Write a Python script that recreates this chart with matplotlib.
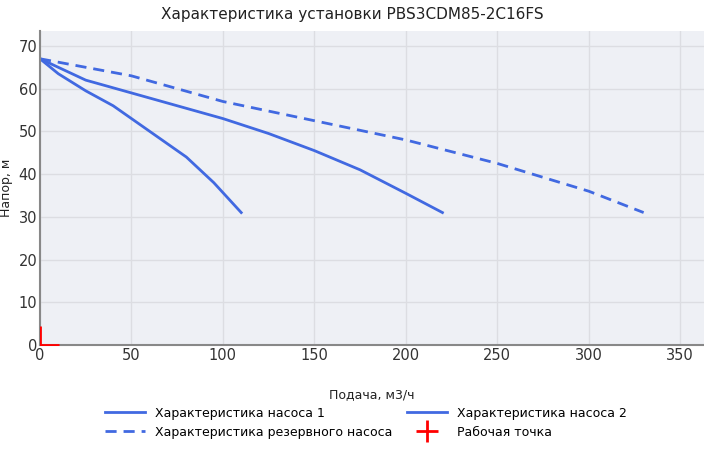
import matplotlib.pyplot as plt
from matplotlib.lines import Line2D

q1 = [0, 10, 25, 40, 50, 65, 80, 95, 110]
h1 = [67, 63.5, 59.5, 56, 53, 48.5, 44, 38, 31]
q2 = [0, 25, 50, 75, 100, 125, 150, 175, 200, 220]
h2 = [67, 62, 59, 56, 53, 49.5, 45.5, 41, 35.5, 31]
q3 = [0, 50, 100, 150, 200, 250, 300, 330]
h3 = [67, 63, 57, 52.5, 48, 42.5, 36, 31]
wq, wh = [0], [0]

fig = plt.figure(figsize=(7.04, 4.5), dpi=100)
ax = fig.add_axes([40/704, 1-345/450, 664/704, 314/450])
ax.set_facecolor('#eef0f5')
c = '#4169e1'
ax.plot(q1, h1, color=c, lw=2, label='Характеристика насоса 1')
ax.plot(q2, h2, color=c, lw=2, label='Характеристика насоса 2')
ax.plot(q3, h3, color=c, lw=2, ls=(0, (4, 2.5)), label='Характеристика резервного насоса')
ax.plot(wq, wh, color='red', marker='+', ms=28, mew=2, ls='none', zorder=5, clip_on=True)
ax.set_xlim(0, 363)
ax.set_ylim(0, 73.5)
ax.set_xticks(range(0, 351, 50))
ax.set_yticks(range(0, 71, 10))
ax.grid(color='#dcdde2', lw=1)
ax.set_axisbelow(True)
for s in ['top', 'right']:
    ax.spines[s].set_visible(False)
for s in ['left', 'bottom']:
    ax.spines[s].set_color('#888888')
    ax.spines[s].set_linewidth(1.5)
    ax.spines[s].set_zorder(2)
ax.tick_params(length=0, labelsize=10.5, colors='#333333', pad=2)
ax.set_xlabel('Подача, м3/ч', fontsize=9, color='#222', labelpad=18)
ax.set_ylabel('Напор, м', fontsize=9, color='#222', labelpad=4)
fig.suptitle('Характеристика установки PBS3CDM85-2C16FS', y=0.985, fontsize=11, color='#222')
handles = [Line2D([], [], color=c, lw=2), Line2D([], [], color=c, lw=2, ls=(0, (4, 2.5))),
           Line2D([], [], color=c, lw=2), Line2D([], [], color='red', marker='+', ms=16, mew=2, ls='none')]
labels = ['Характеристика насоса 1', 'Характеристика резервного насоса',
          'Характеристика насоса 2', 'Рабочая точка']
fig.legend(handles, labels, ncol=2, loc='lower center', bbox_to_anchor=(0.52, 0.0),
           frameon=False, fontsize=9, handlelength=3.2, columnspacing=1.2, labelspacing=0.5)
fig.savefig('out.png')
